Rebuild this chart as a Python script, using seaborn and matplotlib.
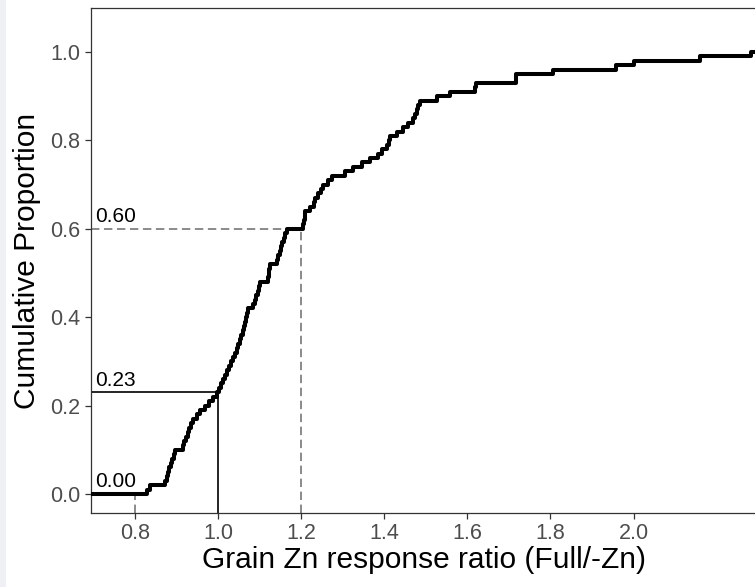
import numpy as np
import pandas as pd
import matplotlib
matplotlib.use("Agg")
import matplotlib.pyplot as plt
from matplotlib.patches import Rectangle
import seaborn as sns

# Grain Zn response ratios (Full / -Zn), one value per site-year
response_ratio = [
    0.830, 0.835,
    0.872, 0.876, 0.879, 0.882, 0.886, 0.890, 0.893, 0.896,
    0.915, 0.919, 0.923, 0.927, 0.931, 0.935, 0.940,
    0.948, 0.957, 0.968,
    0.978, 0.988, 0.997,
    1.003, 1.007, 1.012,
    1.017, 1.022, 1.027, 1.031, 1.036, 1.041,
    1.045, 1.049, 1.053, 1.056, 1.060,
    1.062, 1.064, 1.066, 1.069, 1.072,
    1.084,
    1.088, 1.092, 1.095, 1.098, 1.101,
    1.121, 1.122, 1.123, 1.125,
    1.142,
    1.145, 1.148, 1.151, 1.154,
    1.158, 1.162, 1.166,
    1.205, 1.207, 1.208, 1.210,
    1.222,
    1.230, 1.234,
    1.241,
    1.247, 1.253,
    1.264, 1.275,
    1.305, 1.325,
    1.347,
    1.366,
    1.385,
    1.395, 1.407,
    1.411, 1.414,
    1.431,
    1.446,
    1.458,
    1.470,
    1.474, 1.478, 1.482,
    1.486,
    1.528,
    1.559,
    1.619, 1.621,
    1.716, 1.718,
    1.805,
    1.957,
    2.002,
    2.161,
    2.282,
]

# Reference thresholds and the cumulative proportion reached at each
ref_ratio = [0.8, 1.0, 1.2]
ref_prop = [0.00, 0.23, 0.60]
ref_style = ["--", "-", "--"]
ref_color = ["#6b6b6b", "black", "#6b6b6b"]

x_ticks = [0.8, 1.0, 1.2, 1.4, 1.6, 1.8, 2.0]
y_ticks = [0.0, 0.2, 0.4, 0.6, 0.8, 1.0]

df = pd.DataFrame({"ratio": response_ratio})

sns.set_theme(style="white")
plt.rcParams["font.family"] = ["Liberation Sans", "DejaVu Sans"]

W, H = 755, 587
fig = plt.figure(figsize=(W / 100, H / 100), dpi=100)
fig.patch.set_facecolor("white")
fig.patches.append(Rectangle((0, 0), 6 / W, 1, transform=fig.transFigure,
                             facecolor="#eef0f4", edgecolor="none", zorder=0))

ax = fig.add_axes([91 / W, 1 - 513 / H, (W - 91) / W + 0.002, (513 - 8) / H])
xmin, xmax = 0.694, 2.296
ymin, ymax = -0.043, 1.0995
ax.set_xlim(xmin, xmax)
ax.set_ylim(ymin, ymax)

# Reference segments: horizontal from the left edge, vertical down to the axis
for rx, rp, ls, col in zip(ref_ratio, ref_prop, ref_style, ref_color):
    lw = 1.1 if ls == "--" else 1.2
    dash = dict(dashes=(5.5, 3)) if ls == "--" else {}
    ax.plot([xmin, rx], [rp, rp], ls=ls, color=col, lw=lw, zorder=2, **dash)
    ax.plot([rx, rx], [ymin, rp], ls=ls, color=col, lw=lw, zorder=2, **dash)
    ax.annotate(f"{rp:.2f}", xy=(0.705, rp), xytext=(0, 2),
                textcoords="offset points", ha="left", va="bottom",
                fontsize=15, color="black", zorder=4)

# Empirical CDF, padded with flat tails out to both panel edges
sns.ecdfplot(data=df, x="ratio", ax=ax, color="black", linewidth=2.9, zorder=3)
ax.plot([xmin, min(response_ratio)], [0.0, 0.0], color="black", lw=2.9,
        zorder=3, solid_capstyle="butt")
ax.plot([max(response_ratio), xmax], [1.0, 1.0], color="black", lw=2.9,
        zorder=3, solid_capstyle="butt")

ax.set_xticks(x_ticks)
ax.set_xticklabels([f"{v:.1f}" for v in x_ticks])
ax.set_yticks(y_ticks)
ax.set_yticklabels([f"{v:.1f}" for v in y_ticks])
ax.tick_params(axis="both", which="major", direction="out", length=4,
               width=0.9, color="#333333", labelcolor="#4d4d4d",
               labelsize=15.5, pad=3)
ax.tick_params(axis="y", pad=4)
ax.tick_params(bottom=True, left=True)

ax.set_xlabel("Grain Zn response ratio (Full/-Zn)", fontsize=21.5,
              color="black", labelpad=2)
ax.set_ylabel("Cumulative Proportion", fontsize=21.5, color="black",
              labelpad=6)

for side in ["left", "bottom", "top"]:
    ax.spines[side].set_visible(True)
    ax.spines[side].set_color("#333333")
    ax.spines[side].set_linewidth(0.9)
ax.spines["right"].set_visible(False)
ax.grid(False)

fig.savefig("out.png", dpi=100)
